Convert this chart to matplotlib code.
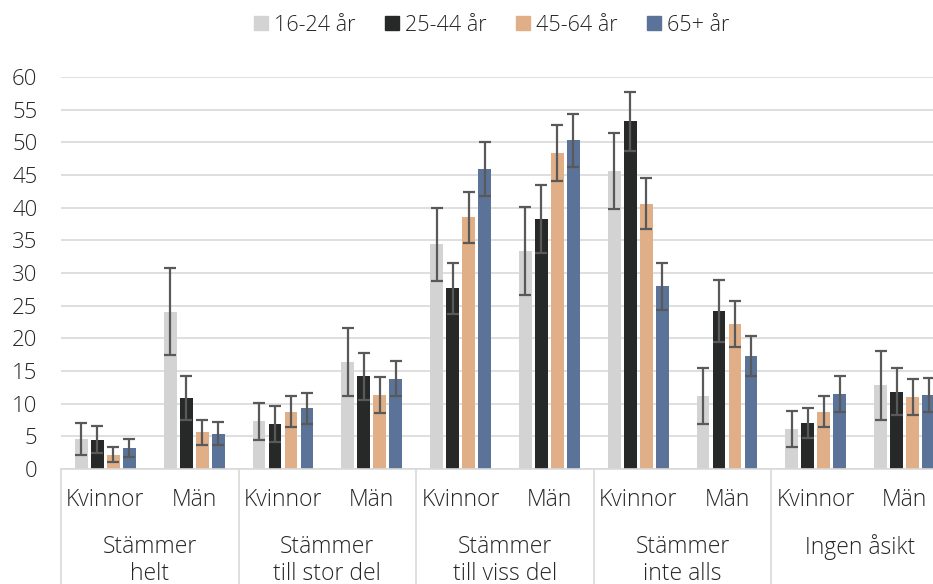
import numpy as np
import matplotlib
matplotlib.use('Agg')
import matplotlib.pyplot as plt
from matplotlib.patches import Patch

plt.rcParams['font.family'] = ['Open Sans', 'DejaVu Sans']
plt.rcParams['font.weight'] = 'light'

sub_labels = ['Kvinnor', 'Män'] * 5
group_labels = [['Stämmer', 'helt'], ['Stämmer', 'till stor del'],
                ['Stämmer', 'till viss del'], ['Stämmer', 'inte alls'],
                ['Ingen åsikt']]
series_names = ['16-24 år', '25-44 år', '45-64 år', '65+ år']

age_16_24 = [4.6, 24.1, 7.3, 16.4, 34.4, 33.4, 45.6, 11.2, 6.1, 12.8]
err_16_24 = [2.5, 6.6, 2.8, 5.2, 5.6, 6.7, 5.8, 4.3, 2.8, 5.3]
age_25_44 = [4.5, 10.9, 6.9, 14.2, 27.7, 38.2, 53.2, 24.2, 7.1, 11.8]
err_25_44 = [2.1, 3.4, 2.7, 3.6, 3.9, 5.2, 4.5, 4.7, 2.3, 3.6]
age_45_64 = [2.2, 5.6, 8.8, 11.3, 38.5, 48.4, 40.6, 22.2, 8.8, 11.0]
err_45_64 = [1.2, 1.9, 2.4, 2.8, 3.9, 4.3, 3.9, 3.5, 2.4, 2.7]
age_65 = [3.2, 5.4, 9.3, 13.8, 45.9, 50.3, 28.0, 17.3, 11.5, 11.3]
err_65 = [1.4, 1.8, 2.4, 2.7, 4.1, 4.0, 3.6, 3.1, 2.7, 2.6]

values = [age_16_24, age_25_44, age_45_64, age_65]
errors = [err_16_24, err_25_44, err_45_64, err_65]
colors = ['#d3d3d3', '#272928', '#e0af87', '#5b7399']

fig = plt.figure(figsize=(9.33, 5.84), dpi=100)
ax = fig.add_axes([61 / 933, 115 / 584, 888 / 933, 392 / 584])

x = np.arange(len(sub_labels)) + 0.5
pitch = 0.18
width = 0.143
for j in range(4):
    ax.bar(x + (j - 1.5) * pitch, values[j], width, color=colors[j], zorder=2)
    ax.errorbar(x + (j - 1.5) * pitch, values[j], yerr=errors[j], fmt='none',
                ecolor='#595959', elinewidth=1.6, capsize=4.5, capthick=1.6, zorder=3)

ax.set_xlim(0, 10)
ax.set_ylim(0, 60)
ax.set_yticks(range(0, 61, 5))
ax.yaxis.grid(True, color='#d9d9d9', linewidth=1.2, zorder=0)
ax.set_axisbelow(True)
for s in ['top', 'right', 'left']:
    ax.spines[s].set_visible(False)
ax.spines['bottom'].set_color('#d9d9d9')
ax.spines['bottom'].set_linewidth(1.2)
ax.tick_params(axis='y', length=0, pad=17, labelsize=16, labelcolor='#262626')
ax.set_xticks([])

trans = ax.get_xaxis_transform()
for b in range(0, 11, 2):
    ax.plot([b, b], [0, -0.3], transform=trans, color='#d9d9d9', lw=1.2, clip_on=False)
for i, lab in enumerate(sub_labels):
    ax.text(x[i], -0.079, lab, transform=trans, ha='center', va='center',
            fontsize=16.5, color='#262626')
for g, lines in enumerate(group_labels):
    for k, line in enumerate(lines):
        ax.text(2 * g + 1, -0.199 - 0.069 * k, line, transform=trans, ha='center',
                va='center', fontsize=16.5, color='#262626')

handles = [Patch(color=c) for c in colors]
fig.legend(handles, series_names, loc='center', bbox_to_anchor=(0.527, 0.957), ncol=4,
           frameon=False, fontsize=15.5, handlelength=0.65, handleheight=0.65,
           handletextpad=0.25, columnspacing=1.4, labelcolor='#262626')

fig.savefig('out.png', dpi=100)
